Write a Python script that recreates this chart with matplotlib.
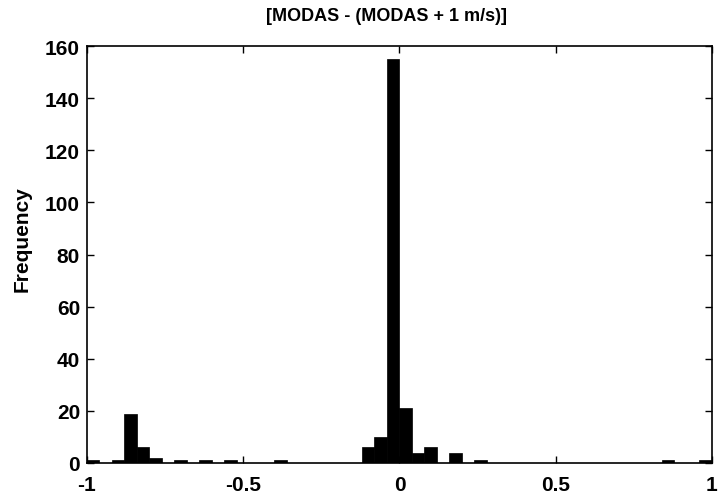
import numpy as np
import matplotlib.pyplot as plt

plt.rcParams['font.family'] = ['Liberation Sans', 'DejaVu Sans']

# histogram bins: 50 bins of width 0.04 from -1 to 1
bin_edges = np.linspace(-1, 1, 51)
counts = [1, 0, 1, 19, 6, 2, 0, 1, 0, 1,
          0, 1, 0, 0, 0, 1, 0, 0, 0, 0,
          0, 0, 6, 10, 155, 21, 4, 6, 0, 4,
          0, 1, 0, 0, 0, 0, 0, 0, 0, 0,
          0, 0, 0, 0, 0, 0, 1, 0, 0, 1]

xticks = [-1, -0.5, 0, 0.5, 1]
xtick_labels = ['-1', '-0.5', '0', '0.5', '1']
yticks = [0, 20, 40, 60, 80, 100, 120, 140, 160]

fig = plt.figure(figsize=(7.25, 5.02), dpi=100)
ax = fig.add_axes([0.12, 0.0757, 0.862, 0.8303])

widths = np.diff(bin_edges)
ax.bar(bin_edges[:-1], counts, width=widths, align='edge',
       color='black', edgecolor='black', linewidth=0.5)

ax.set_xlim(-1, 1)
ax.set_ylim(0, 160)
ax.set_xticks(xticks)
ax.set_xticklabels(xtick_labels)
ax.set_yticks(yticks)
ax.tick_params(direction='in', top=True, right=True, length=5,
               width=1, labelsize=15)
ax.tick_params(axis='x', pad=9)
ax.tick_params(axis='y', pad=5)
for lbl in ax.get_xticklabels() + ax.get_yticklabels():
    lbl.set_fontweight('bold')
for s in ax.spines.values():
    s.set_linewidth(1.2)

ax.set_ylabel('Frequency', fontsize=15, fontweight='bold')
ax.yaxis.set_label_coords(-0.088, 0.54)
ax.set_title('[MODAS - (MODAS + 1 m/s)]', fontsize=13, fontweight='bold',
             pad=19, x=0.48)

fig.savefig('out.png', dpi=100)
